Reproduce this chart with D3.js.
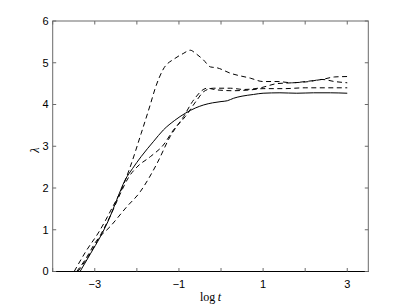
<!DOCTYPE html>
<html><head><meta charset="utf-8">
<script src="https://cdn.jsdelivr.net/npm/d3@7"></script>
<style>body{margin:0;background:#fff}</style>
</head><body>
<script>
// Data (x = log t, y = lambda)
const solid = [[-3.35,0],[-3.1,0.43],[-2.87,0.83],[-2.65,1.28],[-2.48,1.71],[-2.28,2.19],[-2.1,2.47],[-1.9,2.75],[-1.6,3.12],[-1.37,3.39],[-1.1,3.62],[-0.85,3.79],[-0.6,3.92],[-0.41,3.99],[-0.2,4.04],[0,4.07],[0.15,4.09],[0.3,4.15],[0.5,4.2],[0.77,4.24],[1.0,4.27],[1.4,4.28],[1.8,4.27],[2.2,4.28],[2.6,4.28],[3,4.27]];
const dashPeak = [[-3.49,0],[-3.2,0.5],[-2.9,0.95],[-2.6,1.5],[-2.35,2.0],[-2.16,2.5],[-1.9,3.3],[-1.68,4.0],[-1.56,4.4],[-1.37,4.85],[-1.1,5.1],[-0.9,5.22],[-0.73,5.3],[-0.6,5.22],[-0.42,5.07],[-0.25,4.9],[-0.1,4.88],[0.22,4.75],[0.7,4.63],[1.0,4.55],[1.33,4.55],[1.7,4.52],[2.0,4.55],[2.4,4.6],[2.7,4.66],[3,4.67]];
const dashMid = [[-3.4,0],[-3.1,0.45],[-2.85,0.9],[-2.6,1.4],[-2.4,1.85],[-2.2,2.25],[-2.0,2.5],[-1.68,2.75],[-1.37,3.03],[-1.13,3.39],[-0.85,3.71],[-0.57,4.11],[-0.41,4.31],[-0.18,4.39],[0.22,4.39],[0.54,4.36],[0.94,4.4],[1.33,4.5],[1.7,4.52],[2.1,4.55],[2.4,4.6],[2.7,4.55],[3,4.52]];
const dashLow = [[-3.43,0],[-3.23,0.28],[-2.95,0.75],[-2.64,1.07],[-2.24,1.55],[-1.92,1.91],[-1.84,2.03],[-1.52,2.59],[-1.21,3.23],[-0.89,3.71],[-0.65,4.11],[-0.33,4.39],[-0.1,4.35],[0.3,4.33],[0.7,4.35],[1.0,4.38],[1.5,4.38],[2,4.4],[2.5,4.4],[3,4.4]];
const xTicks = [-4,-3,-2,-1,0,1,2,3];
const xTickLabels = [-3,-1,1,3];
const yTicks = [0,1,2,3,4,5,6];

const W = 407, H = 306;
const L = 52.7, R = 368.3, T = 21, B = 271.5;
const svg = d3.select("body").append("svg").attr("width", W).attr("height", H);
const x = d3.scaleLinear().domain([-4, 3.5]).range([L, R]);
const y = d3.scaleLinear().domain([0, 6]).range([B, T]);

svg.append("defs").append("clipPath").attr("id","clip")
  .append("rect").attr("x", L).attr("y", T).attr("width", R-L).attr("height", B-T);

const line = d3.line().x(d => x(d[0])).y(d => y(d[1])).curve(d3.curveMonotoneX);
const g = svg.append("g").attr("clip-path","url(#clip)");
g.append("path").datum(solid).attr("d", line).attr("fill","none").attr("stroke","#000").attr("stroke-width",1);
[dashPeak, dashMid, dashLow].forEach(s => {
  g.append("path").datum(s).attr("d", line).attr("fill","none").attr("stroke","#000")
   .attr("stroke-width",1).attr("stroke-dasharray","5,3.5");
});

// box
const axColor = "#6a6a6a";
svg.append("rect").attr("x", L).attr("y", T).attr("width", R-L).attr("height", B-T)
  .attr("fill","none").attr("stroke", axColor).attr("stroke-width",1);
svg.append("line").attr("x1", L).attr("x2", R).attr("y1", B).attr("y2", B).attr("stroke","#000").attr("stroke-width",1.2);

const tl = 3.5;
xTicks.forEach(t => {
  const px = x(t);
  svg.append("line").attr("x1",px).attr("x2",px).attr("y1",B).attr("y2",B-tl).attr("stroke",axColor);
  svg.append("line").attr("x1",px).attr("x2",px).attr("y1",T).attr("y2",T+tl).attr("stroke",axColor);
});
yTicks.forEach(t => {
  const py = y(t);
  svg.append("line").attr("x1",L).attr("x2",L+tl).attr("y1",py).attr("y2",py).attr("stroke",axColor);
  svg.append("line").attr("x1",R).attr("x2",R-tl).attr("y1",py).attr("y2",py).attr("stroke",axColor);
  svg.append("text").attr("x", L-4).attr("y", py).attr("dy","0.36em").attr("text-anchor","end")
    .attr("font-family","Liberation Sans, Arial, sans-serif").attr("font-size",11).text(t);
});
xTickLabels.forEach(t => {
  svg.append("text").attr("x", x(t)).attr("y", B+16).attr("text-anchor","middle")
    .attr("font-family","Liberation Sans, Arial, sans-serif").attr("font-size",11)
    .text(t < 0 ? "\u2212" + Math.abs(t) : String(t));
});

// axis labels
const xl = svg.append("text").attr("x", (L+R)/2).attr("y", B+29).attr("text-anchor","middle")
  .attr("font-family","Liberation Serif, serif").attr("font-size",12);
xl.append("tspan").text("log\u2009");
xl.append("tspan").attr("font-style","italic").text("t");

svg.append("text").attr("transform", `translate(${L-14},${(T+B)/2+4}) rotate(-90)`)
  .attr("text-anchor","middle").attr("font-family","Liberation Serif, serif")
  .attr("font-style","italic").attr("font-size",12).text("\u03bb");
</script>
</body></html>
